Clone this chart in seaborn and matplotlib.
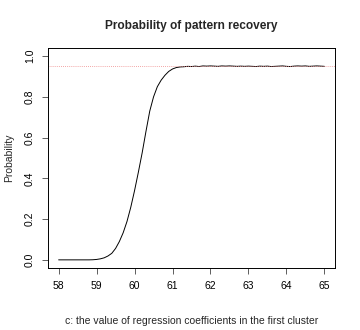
import numpy as np
import pandas as pd
import matplotlib
matplotlib.use("Agg")
import matplotlib.pyplot as plt
import seaborn as sns

# ---- data ----
c_values = [58.0, 58.1, 58.2, 58.3, 58.4, 58.5, 58.6, 58.7, 58.8, 58.9,
            59.0, 59.1, 59.2, 59.3, 59.4, 59.5, 59.6, 59.7, 59.8, 59.9,
            60.0, 60.1, 60.2, 60.3, 60.4, 60.5, 60.6, 60.7, 60.8, 60.9,
            61.0, 61.1, 61.2, 61.3, 61.4, 61.5, 61.6, 61.7, 61.8, 61.9,
            62.0, 62.1, 62.2, 62.3, 62.4, 62.5, 62.6, 62.7, 62.8, 62.9,
            63.0, 63.1, 63.2, 63.3, 63.4, 63.5, 63.6, 63.7, 63.8, 63.9,
            64.0, 64.1, 64.2, 64.3, 64.4, 64.5, 64.6, 64.7, 64.8, 64.9,
            65.0]
probability = [0.0, 0.0, 0.0, 0.0, 0.0, 0.0, 0.0, 0.0, 0.0, 0.0005,
               0.002, 0.005, 0.010, 0.019, 0.032, 0.056, 0.090, 0.133, 0.188, 0.258,
               0.340, 0.430, 0.525, 0.630, 0.730, 0.800, 0.850, 0.882, 0.906, 0.925,
               0.937, 0.944, 0.947, 0.948, 0.950, 0.949, 0.951, 0.949, 0.952, 0.951,
               0.952, 0.951, 0.950, 0.952, 0.951, 0.952, 0.951, 0.950, 0.951, 0.950,
               0.951, 0.950, 0.949, 0.951, 0.950, 0.951, 0.949, 0.950, 0.951, 0.952,
               0.950, 0.949, 0.951, 0.952, 0.951, 0.952, 0.950, 0.951, 0.952, 0.951,
               0.950]
reference_level = 0.95
x_ticks = [58, 59, 60, 61, 62, 63, 64, 65]
y_ticks = [0.0, 0.2, 0.4, 0.6, 0.8, 1.0]
title = "Probability of pattern recovery"
x_label = "c: the value of regression coefficients in the first cluster"
y_label = "Probability"

df = pd.DataFrame({"c": c_values, "p": probability})

sns.set_style("white")
plt.rcParams["font.family"] = ["Liberation Sans", "DejaVu Sans"]

fig = plt.figure(figsize=(3.6, 3.3), dpi=100)
ax = fig.add_axes([48/360, 62/330, 287/360, 220/330])

sns.lineplot(data=df, x="c", y="p", ax=ax, color="black", linewidth=0.7)
ax.axhline(reference_level, color="#ee8888", linestyle=(0, (1, 1.5)), linewidth=0.6)

ax.set_xlim(57.72, 65.28)
ax.set_ylim(-0.04, 1.04)
ax.set_xticks(x_ticks)
ax.set_xticklabels([str(t) for t in x_ticks])
ax.set_yticks(y_ticks)
ax.set_yticklabels([f"{t:.1f}" for t in y_ticks], rotation=90, va="center")

for s in ax.spines.values():
    s.set_color("black")
    s.set_linewidth(0.7)

ax.tick_params(axis="both", which="major", direction="out", length=4.5, width=0.6,
               color="#444444", labelsize=7.5, labelcolor="black", pad=5,
               bottom=True, left=True)

ax.set_title(title, fontsize=8.6, fontweight="bold", pad=14)
ax.set_xlabel(x_label, fontsize=7.5, va="center")
ax.set_ylabel(y_label, fontsize=7.5, va="center")
ax.xaxis.set_label_coords(0.5, (268 - 321) / 220)
ax.yaxis.set_label_coords((9 - 48) / 287, 0.5)

fig.savefig("out.png", dpi=100)
